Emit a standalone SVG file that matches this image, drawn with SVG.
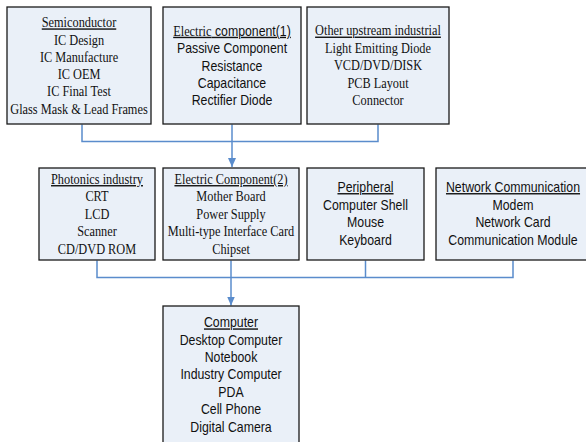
<svg xmlns="http://www.w3.org/2000/svg" width="586" height="442" viewBox="0 0 586 442">
<defs>
<style>
.box{fill:#eaf0f8;stroke:#1a1a1a;stroke-width:1.3}
text{font-size:14px;fill:#111;text-anchor:middle}
.s{font-family:"Liberation Serif","Times New Roman",serif}
.a{font-family:"Liberation Sans",Arial,sans-serif}
.u{text-decoration:underline}
.c{fill:none;stroke:#5a8ccc;stroke-width:1.5}
</style>
<marker id="arr" markerUnits="userSpaceOnUse" markerWidth="9" markerHeight="8" refX="9" refY="4" orient="auto">
<path d="M0,0 L9,4 L0,8 z" fill="#5a8ccc"/>
</marker>
</defs>
<rect width="586" height="442" fill="#fff"/>
<g id="connectors">
<path class="c" d="M82 124.5 V141.5 H378 V124.5"/>
<path class="c" d="M232 124.5 V167" marker-end="url(#arr)"/>
<path class="c" d="M97 260.5 V277.5 H513 V260.5"/>
<path class="c" d="M365.5 260.5 V277.5"/>
<path class="c" d="M231 260.5 V305.5" marker-end="url(#arr)"/>
</g>
<g id="semiconductor">
<rect class="box" x="7" y="7" width="144" height="117"/>
<g class="s" transform="translate(79,0) scale(0.88,1)">
<text class="u" x="0" y="27.3">Semiconductor</text>
<text x="0" y="44.6">IC Design</text>
<text x="0" y="61.9">IC Manufacture</text>
<text x="0" y="79.2">IC OEM</text>
<text x="0" y="96.5">IC Final Test</text>
<text x="0" y="113.8">Glass Mask &amp; Lead Frames</text>
</g>
</g>
<g id="electric-component-1">
<rect class="box" x="163" y="7" width="138" height="117"/>
<g class="a" transform="translate(232,0) scale(0.88,1)">
<text class="u" x="0" y="35.7"><tspan class="s">Electric</tspan> component(1)</text>
<text x="0" y="53.2">Passive Component</text>
<text x="0" y="70.6">Resistance</text>
<text x="0" y="88">Capacitance</text>
<text x="0" y="105.4">Rectifier Diode</text>
</g>
</g>
<g id="other-upstream">
<rect class="box" x="307" y="7" width="142" height="117"/>
<g class="s" transform="translate(378,0) scale(0.88,1)">
<text class="u" x="0" y="35.5">Other upstream industrial</text>
<text x="0" y="53">Light Emitting Diode</text>
<text x="0" y="70.4">VCD/DVD/DISK</text>
<text x="0" y="87.8">PCB Layout</text>
<text x="0" y="105.2">Connector</text>
</g>
</g>
<g id="photonics">
<rect class="box" x="39" y="168" width="116" height="92"/>
<g class="s" transform="translate(97,0) scale(0.88,1)">
<text class="u" x="0" y="184">Photonics industry</text>
<text x="0" y="201.5">CRT</text>
<text x="0" y="219">LCD</text>
<text x="0" y="236.5">Scanner</text>
<text x="0" y="254">CD/DVD ROM</text>
</g>
</g>
<g id="electric-component-2">
<rect class="box" x="163" y="168" width="136" height="92"/>
<g class="s" transform="translate(231,0) scale(0.88,1)">
<text class="u" x="0" y="184">Electric Component(2)</text>
<text x="0" y="201.5">Mother Board</text>
<text x="0" y="219">Power Supply</text>
<text x="0" y="236.5">Multi-type Interface Card</text>
<text x="0" y="254">Chipset</text>
</g>
</g>
<g id="peripheral">
<rect class="box" x="307" y="168" width="117" height="92"/>
<g class="a" transform="translate(365.5,0) scale(0.88,1)">
<text class="u" x="0" y="192">Peripheral</text>
<text x="0" y="209.6">Computer Shell</text>
<text x="0" y="227.2">Mouse</text>
<text x="0" y="244.8">Keyboard</text>
</g>
</g>
<g id="network-communication">
<rect class="box" x="436" y="168" width="154" height="92"/>
<g class="a" transform="translate(513,0) scale(0.88,1)">
<text class="u" x="0" y="192">Network Communication</text>
<text x="0" y="209.6">Modem</text>
<text x="0" y="227.2">Network Card</text>
<text x="0" y="244.8">Communication Module</text>
</g>
</g>
<g id="computer">
<rect class="box" x="163" y="306" width="136" height="150"/>
<g class="a" transform="translate(231,0) scale(0.88,1)">
<text class="u" x="0" y="327.3">Computer</text>
<text x="0" y="344.7">Desktop Computer</text>
<text x="0" y="362.1">Notebook</text>
<text x="0" y="379.5">Industry Computer</text>
<text x="0" y="396.9">PDA</text>
<text x="0" y="414.3">Cell Phone</text>
<text x="0" y="431.7">Digital Camera</text>
</g>
</g>
</svg>
